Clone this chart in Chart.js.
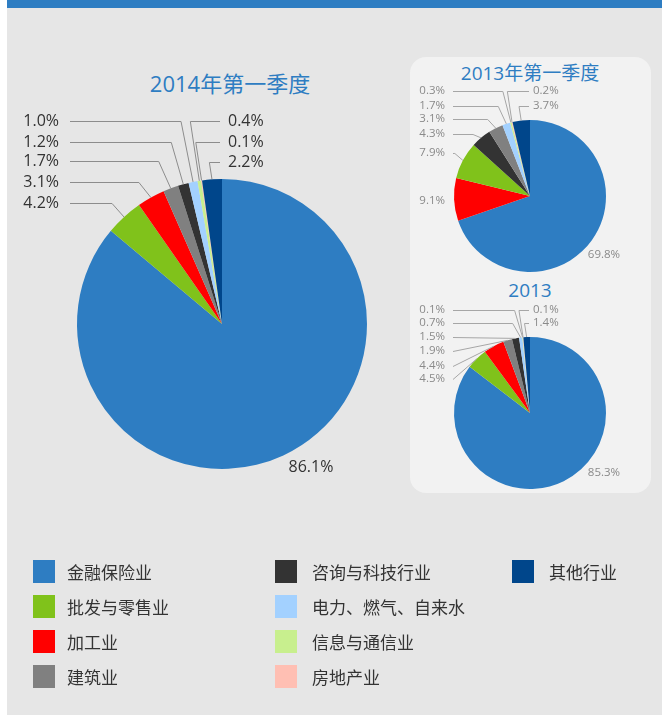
<!DOCTYPE html>
<html>
<head>
<meta charset="utf-8">
<script src="https://cdn.jsdelivr.net/npm/chart.js@4/dist/chart.umd.min.js"></script>
<style>
    body { margin: 0; width: 662px; height: 715px; background: #fff; position: relative; overflow: hidden; }
    #bg { position: absolute; left: 7px; top: 0; right: 0; bottom: 0; background: #e6e6e6; }
    #bar { position: absolute; left: 7px; top: 0; right: 0; height: 8px; background: #2e7dc2; }
    #panel { position: absolute; left: 410px; top: 57px; width: 241px; height: 436px; background: #f2f2f2; border-radius: 16px; }
    .title { position: absolute; color: #2e7dc2; font-family: "Open Sans", "Noto Sans CJK SC", sans-serif; text-align: center; white-space: nowrap; }
    canvas { position: absolute; left: 0; top: 0; }
    .item { position: absolute; height: 23px; font-family: "Noto Sans CJK SC", sans-serif; font-size: 17px; color: #333; white-space: nowrap; }
    .item span { position: absolute; left: 0; top: 0; width: 22px; height: 23px; }
    .item b { position: absolute; top: 0; line-height: 23px; font-weight: normal; }
</style>
</head>
<body>
<div id="bg"></div>
<div id="bar"></div>
<div id="panel"></div>
<div class="title" style="left:0; width:460px; top:70px; font-size:22px; line-height:26px;">2014年第一季度</div>
<div class="title" style="left:410px; width:240px; top:61px; font-size:19px; line-height:24px;">2013年第一季度</div>
<div class="title" style="left:410px; width:240px; top:278px; font-size:19px; line-height:24px;">2013</div>
<canvas id="pie2014q1" width="662" height="715"></canvas>
<canvas id="pie2013q1" width="662" height="715"></canvas>
<canvas id="pie2013" width="662" height="715"></canvas>
<div id="legend"></div>
<script>
// categories, in legend order
var categories = ['金融保险业', '批发与零售业', '加工业', '建筑业', '咨询与科技行业', '电力、燃气、自来水', '信息与通信业', '房地产业', '其他行业'];
var sliceColors = ['#2e7dc2', '#80c21b', '#ff0000', '#808080', '#333333', '#a3d1ff', '#c8ef8e', '#ffbfb3', '#00468b'];

// shares in %, same order as categories
var q1_2014 = [86.1, 4.2, 3.1, 1.7, 1.2, 1.0, 0.4, 0.1, 2.2];
var q1_2013 = [69.8, 7.9, 9.1, 3.1, 4.3, 1.7, 0.3, 0.2, 3.7];
var year2013 = [85.3, 4.5, 4.4, 1.9, 1.5, 0.7, 0.1, 0.1, 1.4];

// order of slices clockwise from the top
var order2014q1 = [0, 1, 2, 3, 4, 5, 6, 7, 8];
var order2013q1 = [0, 2, 1, 4, 3, 5, 6, 7, 8];
var order2013 = [0, 1, 2, 3, 4, 5, 6, 7, 8];

// legend
var legendCols = [[0, 1, 2, 3], [4, 5, 6, 7], [8]];
var colX = [33, 275, 512];
var legend = document.getElementById('legend');
legendCols.forEach(function (col, c) {
    col.forEach(function (cat, r) {
        var div = document.createElement('div');
        div.className = 'item';
        div.style.left = colX[c] + 'px';
        div.style.top = (560 + r * 35) + 'px';
        div.innerHTML = '<span style="background:' + sliceColors[cat] + '"></span><b style="left:' + (c === 0 ? 34 : 37) + 'px">' + categories[cat] + '</b>';
        legend.appendChild(div);
    });
});

// labels with leader lines
var leaderPlugin = {
    id: 'leaders',
    afterDatasetsDraw: function (chart, args, opts) {
        var ctx = chart.ctx;
        var ds = chart.data.datasets[0];
        var meta = chart.getDatasetMeta(0);

        function anchor(cat) {
            var i = ds.cats.indexOf(cat);
            var arc = meta.data[i];
            var mid = (arc.startAngle + arc.endAngle) / 2;
            return {
                x: arc.x + Math.cos(mid) * arc.outerRadius,
                y: arc.y + Math.sin(mid) * arc.outerRadius,
                text: ds.data[i].toFixed(1) + '%'
            };
        }

        ctx.save();
        ctx.font = opts.font;
        ctx.textBaseline = 'middle';
        ctx.strokeStyle = opts.line;
        ctx.lineWidth = 1;

        opts.left.forEach(function (cat, k) {
            var a = anchor(cat);
            var y = opts.leftRows[k];
            ctx.beginPath();
            ctx.moveTo(opts.leftLine, y + 0.5);
            if (y < a.y - 3) {
                ctx.lineTo(Math.max(opts.leftLine, a.x + opts.leftDx), y + 0.5);
            }
            ctx.lineTo(a.x, a.y);
            ctx.stroke();
            ctx.fillStyle = opts.color;
            ctx.textAlign = 'right';
            ctx.fillText(a.text, opts.leftX, y);
        });

        opts.right.forEach(function (cat, k) {
            var a = anchor(cat);
            var y = opts.rightRows[k];
            ctx.beginPath();
            ctx.moveTo(opts.rightLine, y + 0.5);
            ctx.lineTo(a.x - opts.rightK * (a.y - y), y + 0.5);
            ctx.lineTo(a.x, a.y);
            ctx.stroke();
            ctx.fillStyle = opts.color;
            ctx.textAlign = 'left';
            ctx.fillText(a.text, opts.rightX, y);
        });

        opts.free.forEach(function (f) {
            var a = anchor(f.cat);
            ctx.fillStyle = opts.color;
            ctx.textAlign = f.align;
            ctx.fillText(a.text, f.x, f.y);
        });
        ctx.restore();
    }
};

function makePie(canvasId, values, sliceOrder, padding, leaders) {
    var config = {
        type: 'pie',
        data: {
            labels: sliceOrder.map(function (c) { return categories[c]; }),
            datasets: [{
                data: sliceOrder.map(function (c) { return values[c]; }),
                cats: sliceOrder,
                backgroundColor: sliceOrder.map(function (c) { return sliceColors[c]; }),
                borderWidth: 0
            }]
        },
        options: {
            responsive: false,
            animation: false,
            layout: { padding: padding },
            plugins: {
                legend: { display: false },
                tooltip: { enabled: false },
                leaders: leaders
            }
        },
        plugins: [leaderPlugin]
    };
    return new Chart(document.getElementById(canvasId), config);
}

makePie('pie2014q1', q1_2014, order2014q1,
    { left: 77, right: 295, top: 179, bottom: 246 },
    {
        font: '16px "Open Sans"', color: '#333333', line: '#8c8c8c',
        leftX: 59, leftLine: 70, leftDx: -12, leftRows: [121, 142, 161, 182, 203], left: [5, 4, 3, 2, 1],
        rightX: 228, rightLine: 220, rightK: 0.15, rightRows: [121, 142, 162], right: [6, 7, 8],
        free: [{ cat: 0, x: 311, y: 467, align: 'center' }]
    });

makePie('pie2013q1', q1_2013, order2013q1,
    { left: 454, right: 56, top: 120, bottom: 443 },
    {
        font: '11.5px "Open Sans"', color: '#8a8a8a', line: '#a6a6a6',
        leftX: 445, leftLine: 453, leftDx: -8, leftRows: [91, 106, 119, 134, 153], left: [6, 5, 3, 4, 1],
        rightX: 533, rightLine: 529, rightK: 0.15, rightRows: [91, 106], right: [7, 8],
        free: [{ cat: 2, x: 445, y: 201, align: 'right' }, { cat: 0, x: 604, y: 255, align: 'center' }]
    });

makePie('pie2013', year2013, order2013,
    { left: 454, right: 56, top: 337, bottom: 226 },
    {
        font: '11.5px "Open Sans"', color: '#8a8a8a', line: '#a6a6a6',
        leftX: 445, leftLine: 453, leftDx: -8, leftRows: [310, 323, 337, 351, 366, 379], left: [6, 5, 4, 3, 2, 1],
        rightX: 533, rightLine: 529, rightK: 0.15, rightRows: [310, 323], right: [7, 8],
        free: [{ cat: 0, x: 604, y: 473, align: 'center' }]
    });
</script>
</body>
</html>
